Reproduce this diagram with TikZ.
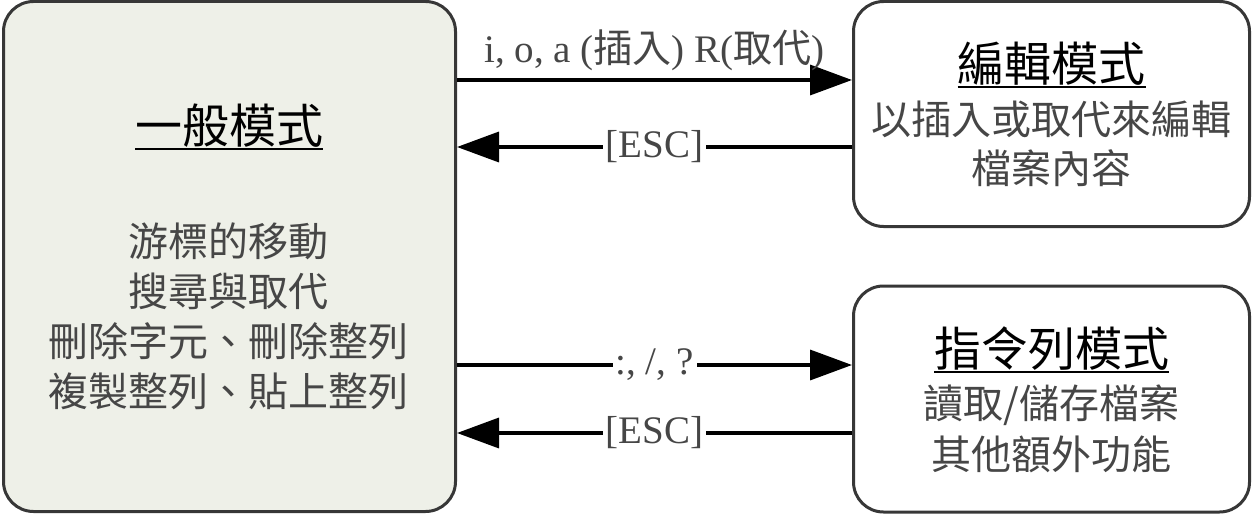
\documentclass[tikz,border=0pt]{standalone}
\usepackage{fontspec}
\setmainfont{Liberation Serif}
\newfontfamily\cjk{Noto Sans CJK TC}
\usetikzlibrary{arrows.meta}
\definecolor{genfill}{RGB}{238,240,232}
\definecolor{boxline}{RGB}{55,55,55}
\definecolor{txtgray}{RGB}{70,70,70}
\newcommand\myul[1]{\sbox0{#1}\rlap{\rule[-7pt]{\wd0}{2.5pt}}\usebox0}
\begin{document}
\begin{tikzpicture}[x=1pt,y=-1pt,
  modebox/.style={draw=boxline, line width=3pt, rounded corners=30pt, inner sep=0pt},
  title/.style={font=\cjk\fontsize{47}{56}\selectfont, text=black, inner sep=0pt},
  body/.style={font=\cjk\fontsize{40}{50}\selectfont, text=txtgray, align=center, inner sep=0pt},
  arr/.style={line width=3.5pt, -{Triangle[length=42pt,width=30pt]}},
  lbl/.style={font=\fontsize{39}{44}\selectfont, text=txtgray, inner sep=3pt}]
\useasboundingbox (0,0) rectangle (1255,516);
\node[modebox, fill=genfill, minimum width=452pt, minimum height=510pt] (gen) at (229.5,256.5) {};
\node[modebox, fill=white, minimum width=396pt, minimum height=225pt] (edit) at (1051.5,114) {};
\node[modebox, fill=white, minimum width=396pt, minimum height=226pt] (cmd) at (1051.5,399) {};
% texts
\node[title] (gentitle) at (229,127) {\myul{一般模式}};
\node[body] (genbody) at (228,316) {游標的移動\\搜尋與取代\\刪除字元、刪除整列\\複製整列、貼上整列};
\node[title] (edittitle) at (1051.5,65) {\myul{編輯模式}};
\node[body, font=\cjk\fontsize{40}{49}\selectfont] (editbody) at (1051.5,143.5) {以插入或取代來編輯\\檔案內容};
\node[title] (cmdtitle) at (1051.5,350) {\myul{指令列模式}};
\node[body, font=\cjk\fontsize{40}{51}\selectfont] (cmdbody) at (1051.5,428.5) {讀取/儲存檔案\\其他額外功能};
% connectors
\coordinate (p1) at ([yshift=176.5pt]gen.east);
\coordinate (p2) at ([yshift=109.5pt]gen.east);
\coordinate (p3) at ([yshift=-108.5pt]gen.east);
\coordinate (p4) at ([yshift=-176.5pt]gen.east);
\draw[arr] (p1) -- node[lbl, above=4pt] (l1) {i, o, a ({\cjk 插入}) R({\cjk 取代})} (p1 -| edit.west);
\draw[arr] (p2 -| edit.west) -- node[lbl, fill=white] (l2) {[ESC]} (p2);
\draw[arr] (p3) -- node[lbl, fill=white] (l3) {:, /, ?} (p3 -| cmd.west);
\draw[arr] (p4 -| cmd.west) -- node[lbl, fill=white] (l4) {[ESC]} (p4);
\end{tikzpicture}
\end{document}
